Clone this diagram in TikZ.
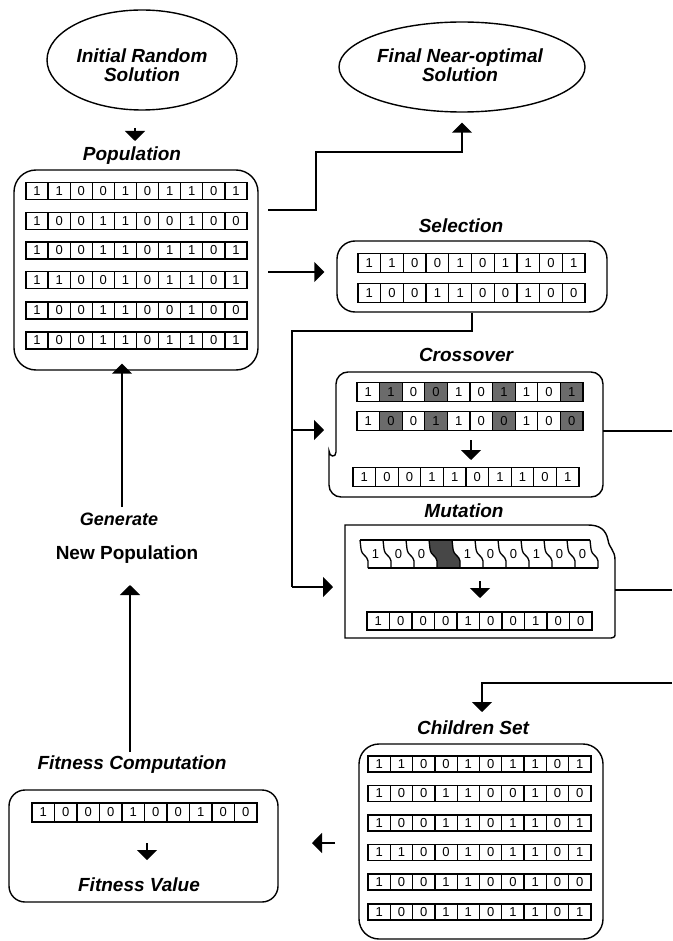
\documentclass[tikz,border=0pt]{standalone}
\usepackage{fontspec}
\setmainfont{Liberation Sans}
\usetikzlibrary{arrows.meta,shapes.geometric}
\definecolor{cw}{gray}{1}
\definecolor{cg}{gray}{0.42}
\definecolor{cd}{gray}{0.28}
\tikzset{
  lab/.style={font=\fontsize{19}{19}\selectfont\bfseries\itshape, inner sep=1pt, anchor=base},
  labup/.style={font=\fontsize{19}{19}\selectfont\bfseries, inner sep=1pt, anchor=base},
  cell/.style={draw, line width=1.3pt, inner sep=0pt, font=\fontsize{13}{13}\selectfont},
  boxline/.style={line width=1.4pt},
  conn/.style={line width=1.5pt, -{Triangle[length=10pt,width=20pt]}},
  plainline/.style={line width=1.5pt},
  ellip/.style={draw, ellipse, line width=1.4pt, inner sep=0pt},
  ghost/.style={inner sep=0pt, outer sep=0pt},
}
\newcommand{\bitrow}[6]{%
  \foreach \d [count=\i] in {#6}{%
    \node[cell, minimum width=#4pt, minimum height=#5pt] (#1-\i) at ({#2+(\i-0.5)*#4},#3) {\d};
  }}
\newcommand{\shrow}[6]{%
  \foreach \d/\f [count=\i] in {#6}{%
    \node[cell, fill=\f, minimum width=#4pt, minimum height=#5pt] (#1-\i) at ({#2+(\i-0.5)*#4},#3) {\d};
  }}
\begin{document}
\begin{tikzpicture}[x=1pt,y=-1pt]
\fill[white] (0,0) rectangle (672,941);
\useasboundingbox (0,0) rectangle (672,941);

% ---- ellipses ----
\node[ellip, minimum width=190pt, minimum height=100pt] (init) at (142,60) {};
\node[lab, anchor=center, align=center, font=\fontsize{19}{19}\selectfont\bfseries\itshape] (initt) at (142,65.5) {Initial Random\\Solution};
\node[ellip, minimum width=246pt, minimum height=90pt] (final) at (462,67) {};
\node[lab, anchor=center, align=center, font=\fontsize{19}{19.5}\selectfont\bfseries\itshape] (finalt) at (460,65) {Final Near-optimal\\Solution};

% ---- Population ----
\node[lab] (poplab) at (132,161) {Population};
\node[draw, boxline, rounded corners=22pt, minimum width=244pt, minimum height=200pt] (pop) at (136,270) {};
\bitrow{p1}{26}{191}{22.1}{17}{1,1,0,0,1,0,1,1,0,1}
\bitrow{p2}{26}{221}{22.1}{17}{1,0,0,1,1,0,0,1,0,0}
\bitrow{p3}{26}{250.5}{22.1}{17}{1,0,0,1,1,0,1,1,0,1}
\bitrow{p4}{26}{280}{22.1}{17}{1,1,0,0,1,0,1,1,0,1}
\bitrow{p5}{26}{310.5}{22.1}{17}{1,0,0,1,1,0,0,1,0,0}
\bitrow{p6}{26}{340.5}{22.1}{17}{1,0,0,1,1,0,1,1,0,1}

% ---- Selection ----
\node[lab] (sellab) at (461,233) {Selection};
\node[draw, boxline, rounded corners=18pt, minimum width=270pt, minimum height=71pt] (sel) at (472,276.5) {};
\bitrow{s1}{358}{263}{22.7}{19}{1,1,0,0,1,0,1,1,0,1}
\bitrow{s2}{358}{293}{22.7}{19}{1,0,0,1,1,0,0,1,0,0}

% ---- Crossover ----
\node[lab] (crosslab) at (466,361) {Crossover};
\node[ghost, minimum width=268pt, minimum height=125pt] (cross) at (469,434.5) {};
\draw[boxline] (336,452) [rounded corners=12pt] -- (336,372) -- (603,372) -- (603,497) -- (329,497) -- (329,463) [sharp corners] .. controls (329,457) and (336,458) .. (336,452);
\shrow{c1}{357}{392}{22.6}{19}{1/cw,1/cg,0/cw,0/cg,1/cw,0/cw,1/cg,1/cw,0/cw,1/cg}
\shrow{c2}{357}{421}{22.6}{19}{1/cw,0/cg,0/cw,1/cg,1/cw,0/cw,0/cg,1/cw,0/cw,0/cg}
\bitrow{c3}{353}{477}{22.6}{19}{1,0,0,1,1,0,1,1,0,1}
\coordinate (ca1) at (471,440);
\coordinate (ca2) at (471,460);
\draw[conn] (ca1) -- (ca2);

% ---- Mutation ----
\node[lab] (mutlab) at (464,517) {Mutation};
\node[ghost, minimum width=270pt, minimum height=113pt] (mut) at (480,581.5) {};
\draw[boxline] (345,525) -- (588,525) .. controls (600,525) and (606,530) .. (608,540)
  .. controls (609,548) and (615,550) .. (615,560) -- (615,633) .. controls (615,637) .. (611,638)
  -- (345,638) -- cycle;
\fill[cd] (429,540) -- (452,540) -- (453,549) .. controls (454,556) and (459,555) .. (460,561) -- (460,568)
  -- (437,568) -- (437,561) .. controls (436,555) and (431,556) .. (430,549) -- cycle;
\draw[line width=1.3pt] (360,540) -- (590,540);
\draw[line width=1.3pt] (368,568) -- (598,568);
\foreach \k in {0,...,10}{
  \pgfmathsetmacro\xt{360+23*\k}
  \draw[line width=1.3pt] (\xt,540) -- (\xt+1,549) .. controls (\xt+2,556) and (\xt+7,555) .. (\xt+8,561) -- (\xt+8,568);
}
\foreach \d [count=\i] in {1,0,0,{},1,0,0,1,0,0}{
  \node[inner sep=0pt, font=\fontsize{13}{13}\selectfont] (mt-\i) at ({360+23*(\i-0.5)+4},554) {\d};
}
\bitrow{m2}{367}{621}{22.5}{18}{1,0,0,0,1,0,0,1,0,0}
\coordinate (ma1) at (480,581);
\coordinate (ma2) at (480,598);
\draw[conn] (ma1) -- (ma2);

% ---- Children Set ----
\node[lab] (chlab) at (473,734) {Children Set};
\node[draw, boxline, rounded corners=20pt, minimum width=244pt, minimum height=195pt] (child) at (481,841.5) {};
\bitrow{k1}{368}{764}{22.3}{16}{1,1,0,0,1,0,1,1,0,1}
\bitrow{k2}{368}{793.5}{22.3}{16}{1,0,0,1,1,0,0,1,0,0}
\bitrow{k3}{368}{823}{22.3}{16}{1,0,0,1,1,0,1,1,0,1}
\bitrow{k4}{368}{852.5}{22.3}{16}{1,1,0,0,1,0,1,1,0,1}
\bitrow{k5}{368}{882}{22.3}{16}{1,0,0,1,1,0,0,1,0,0}
\bitrow{k6}{368}{912}{22.3}{16}{1,0,0,1,1,0,1,1,0,1}

% ---- Fitness ----
\node[lab] (fitlab) at (132,769) {Fitness Computation};
\node[draw, boxline, rounded corners=16pt, minimum width=269pt, minimum height=112pt] (fit) at (143.5,846) {};
\bitrow{f1}{32}{812.5}{22.5}{19}{1,0,0,0,1,0,0,1,0,0}
\coordinate (fa1) at (147,843);
\coordinate (fa2) at (147,860);
\draw[conn] (fa1) -- (fa2);
\node[lab] (fvlab) at (139,891) {Fitness Value};

% ---- Generate New Population ----
\node[lab, font=\fontsize{18}{18}\selectfont\bfseries\itshape] (genlab) at (119,525) {Generate};
\node[labup] (nplab) at (127,559) {New Population};

% ---- connectors ----
\coordinate (ia1) at (135,128);
\coordinate (ia2) at (135,141);
\draw[conn] (ia1) -- (ia2);

\coordinate (p2f) at (268,210);
\draw[conn] (p2f) -- (316,210) -- (316,152) -- (final.south |- 0,152) -- ([yshift=-10pt]final.south);

\coordinate (ps) at (268,272);
\draw[conn, shorten >=12pt] (ps) -- (ps -| sel.west);

\coordinate (bus) at (292,331);
\draw[plainline] (sel.south) |- (bus) -- (292,587);
\draw[conn] (292,587) -- ([xshift=-12pt]mut.west |- 0,587);
\draw[conn] (292,430) -- ([xshift=-11pt]cross.west |- 0,430);

\coordinate (rc) at (672,431);
\draw[plainline] (cross.east |- rc) -- (rc);
\coordinate (rm) at (672,590);
\draw[plainline] (mut.east |- rm) -- (rm);
\coordinate (rt) at (672,683);
\coordinate (chtip) at (482,712);
\draw[conn] (rt) -| (chtip);

\coordinate (ka1) at (335,843);
\coordinate (ka2) at (312,843);
\draw[conn] (ka1) -- (ka2);

\coordinate (fu) at (130,752);
\coordinate (futip) at (130,585);
\draw[conn] (fu) -- (futip);

\coordinate (gu) at (122,507);
\draw[conn, shorten >=-7pt] (gu) -- (gu |- pop.south);
\end{tikzpicture}
\end{document}
